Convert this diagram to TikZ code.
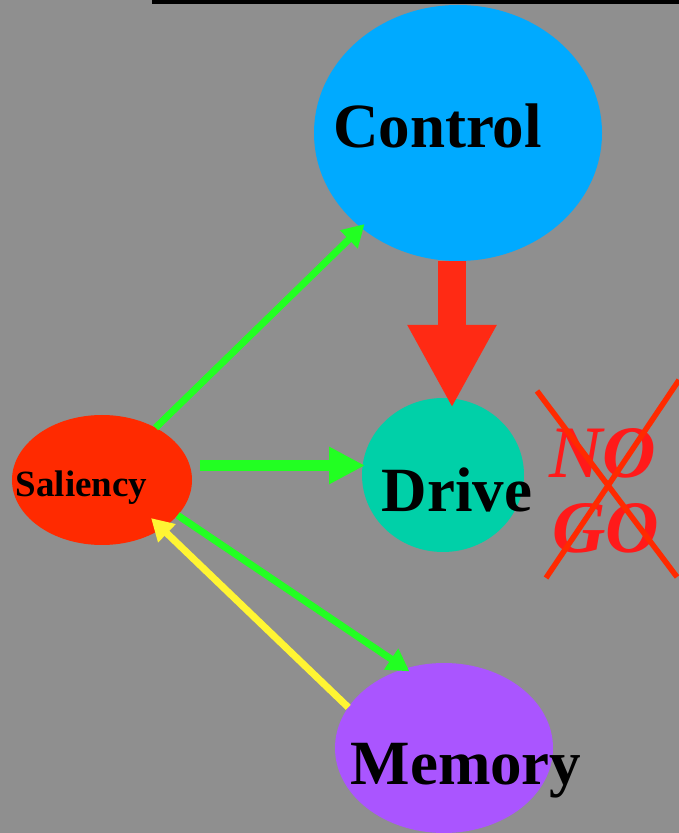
\documentclass[tikz,border=0pt]{standalone}
\usepackage{fontspec}
\setmainfont{Liberation Serif}
\usetikzlibrary{shapes.geometric,arrows.meta}
\definecolor{bggray}{RGB}{143,143,143}
\definecolor{ctrlblue}{RGB}{0,170,255}
\definecolor{driveteal}{RGB}{0,208,168}
\definecolor{salred}{RGB}{255,42,0}
\definecolor{mempurple}{RGB}{170,85,255}
\definecolor{arrgreen}{RGB}{34,255,34}
\definecolor{arryellow}{RGB}{255,245,51}
\definecolor{arrred}{RGB}{255,42,20}
\definecolor{nogored}{RGB}{255,26,26}
\begin{document}
\begin{tikzpicture}[x=1pt,y=1pt,
        blob/.style={shape=ellipse,inner sep=0pt,outer sep=0pt},
        bigword/.style={font=\fontsize{63}{70}\selectfont\bfseries,anchor=base,inner sep=0pt},
        noword/.style={font=\fontsize{74}{75}\selectfont\bfseries\itshape,text=nogored,anchor=base,inner sep=0pt},
        thinarrow/.style={line width=7pt,-{Triangle[length=22pt,width=24pt]}},
        fatarrow/.style={line width=28pt,-{Triangle[length=83pt,width=83pt]}}]
        \useasboundingbox[fill=bggray] (0,0) rectangle (679,833);
        \fill[black] (152,829) rectangle (679,833);
        \node[blob,fill=ctrlblue,minimum width=288,minimum height=256] (C) at (458,700) {};
        \node[blob,fill=driveteal,minimum width=162,minimum height=154] (D) at (443,358) {};
        \node[blob,fill=salred,minimum width=180,minimum height=130] (S) at (102,353) {};
        \node[blob,fill=mempurple,minimum width=218,minimum height=170] (M) at (444,85) {};
        \node[bigword] (Ct) at (437.5,685) {Control};
        \node[bigword] (Dt) at (457,321) {Drive};
        \node[bigword] (Mt) at (466,48) {Memory};
        \node[bigword,font=\fontsize{37}{40}\selectfont\bfseries] (St) at (81.5,336) {Saliency};
        \draw [fatarrow,draw=arrred]([xshift=-6pt]C.south) -- ([xshift=-6pt,yshift=-10pt]C.south |- D.north);
        \draw [line width=11pt,draw=arrgreen,-{Triangle[length=36pt,width=35pt]}]([xshift=8pt,yshift=14.5pt]S.east) -- ([xshift=3pt,yshift=9.5pt]D.west);
        \draw [thinarrow,draw=arrgreen,shorten >=-5pt](S) -- (C);
        \draw [thinarrow,draw=arrgreen,shorten >=-5pt](S.-25) -- (M.116);
        \draw [thinarrow,draw=arryellow,shorten >=-15pt](M.157) -- (S.-39);
        \node[noword] (no) at (603,355) {NO};
        \node[noword] (go) at (606,280) {GO};
        \draw[salred,line width=5.5pt] (537,442) -- (677,256);
        \draw[salred,line width=5.5pt] (546,255) -- (679,453);
    \end{tikzpicture}
\end{document}
